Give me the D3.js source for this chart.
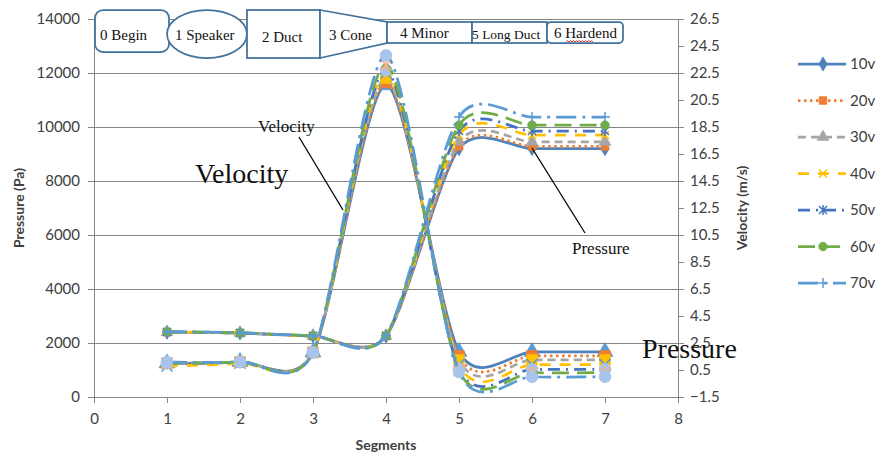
<!DOCTYPE html>
<html>
<head>
<meta charset="utf-8">
<script src="https://cdn.jsdelivr.net/npm/d3@7"></script>
<style>
body { margin: 0; background: #fff; }
text { fill: #404040; }
</style>
</head>
<body>
<svg id="chart" width="879" height="459"></svg>
<script>
var segments = [1, 2, 3, 4, 5, 6, 7];
var seriesNames = ["10v", "20v", "30v", "40v", "50v", "60v", "70v"];

// pressure (Pa), left axis
var pressure10v = [2400, 2370, 2260, 2260, 9200, 9200, 9200];
var pressure20v = [2400, 2370, 2260, 2260, 9280, 9280, 9280];
var pressure30v = [2400, 2370, 2260, 2260, 9450, 9450, 9450];
var pressure40v = [2410, 2370, 2260, 2270, 9700, 9700, 9700];
var pressure50v = [2410, 2370, 2260, 2270, 9850, 9850, 9850];
var pressure60v = [2420, 2380, 2270, 2270, 10070, 10070, 10070];
var pressure70v = [2420, 2380, 2270, 2280, 10370, 10370, 10370];

// velocity (m/s), right axis
var velocity10v = [1.0, 1.1, 1.8, 21.6, 1.85, 1.85, 1.85];
var velocity20v = [1.0, 1.1, 1.8, 21.8, 1.55, 1.55, 1.55];
var velocity30v = [1.0, 1.1, 1.8, 22.1, 1.25, 1.25, 1.25];
var velocity40v = [0.8, 1.0, 1.8, 22.5, 0.9, 0.9, 0.9];
var velocity50v = [1.0, 1.1, 1.8, 22.7, 0.6, 0.55, 0.55];
var velocity60v = [1.0, 1.1, 1.8, 23.1, 0.45, 0.3, 0.3];
var velocity70v = [1.1, 1.1, 1.8, 23.8, 0.35, 0.0, 0.0];

var pressureTicks = [0, 2000, 4000, 6000, 8000, 10000, 12000, 14000];
var velocityTicks = [-1.5, 0.5, 2.5, 4.5, 6.5, 8.5, 10.5, 12.5, 14.5, 16.5, 18.5, 20.5, 22.5, 24.5, 26.5];
var segmentTicks = [0, 1, 2, 3, 4, 5, 6, 7, 8];

var pressureData = [pressure10v, pressure20v, pressure30v, pressure40v, pressure50v, pressure60v, pressure70v];
var velocityData = [velocity10v, velocity20v, velocity30v, velocity40v, velocity50v, velocity60v, velocity70v];

var colors  = ["#4F81BD", "#ED7D31", "#A5A5A5", "#FFC000", "#4472C4", "#70AD47", "#5B9BD5"];
var dashes  = ["", "2.5,3.5", "8,5", "11,9", "12,6,2,6", "17,8", "20,6,3,6"];
var markers = ["diamond", "square", "triangle", "x", "star", "circle", "plus"];
// markers the velocity series show in the picture
var vMarkers = ["triangle", "square", "square", "x", "circle", "star", "circle"];
var vMarkerColors = ["#5B9BD5", "#ED7D31", "#FFC000", "#5B9BD5", "#A9C4EB", "#F4B183", "#A9C4EB"];

var svg = d3.select("#chart");
var x = d3.scaleLinear().domain([0, 8]).range([94, 678]);
var yP = d3.scaleLinear().domain([0, 14000]).range([397, 19]);
var yV = d3.scaleLinear().domain([-1.5, 26.5]).range([397, 19]);

var axisColor = "#868686";
var tickFont = "Lato, 'Open Sans', sans-serif";

// gridlines
svg.append("g")
	.attr("transform", "translate(94,0)")
	.call(d3.axisLeft(yP).tickValues(pressureTicks).tickSize(-584).tickFormat(""))
	.call(function(g){ g.select(".domain").remove(); })
	.selectAll("line").attr("stroke", axisColor);

// left axis
var gl = svg.append("g").attr("transform", "translate(94,0)")
	.call(d3.axisLeft(yP).tickValues(pressureTicks).tickFormat(d3.format("d")).tickSizeOuter(0).tickSize(6).tickPadding(8));
// bottom axis
var gb = svg.append("g").attr("transform", "translate(0,397)")
	.call(d3.axisBottom(x).tickValues(segmentTicks).tickSizeOuter(0).tickSize(6).tickPadding(10));
// right axis
var gr = svg.append("g").attr("transform", "translate(678,0)")
	.call(d3.axisRight(yV).tickValues(velocityTicks).tickFormat(d3.format(".1f")).tickSizeOuter(0).tickSize(6).tickPadding(6));

[gl, gb, gr].forEach(function(g) {
	g.select(".domain").attr("stroke", axisColor);
	g.selectAll(".tick line").attr("stroke", axisColor);
	g.selectAll(".tick text").style("font-family", tickFont).style("font-size", "15px").attr("fill", "#404040");
});

svg.append("text").attr("transform", "translate(24,208) rotate(-90)")
	.attr("text-anchor", "middle").style("font-family", tickFont).style("font-size", "14px").style("font-weight", "bold")
	.text("Pressure (Pa)");
svg.append("text").attr("transform", "translate(747,208) rotate(-90)")
	.attr("text-anchor", "middle").style("font-family", tickFont).style("font-size", "14px").style("font-weight", "bold")
	.text("Velocity (m/s)");
svg.append("text").attr("x", 386).attr("y", 450)
	.attr("text-anchor", "middle").style("font-family", tickFont).style("font-size", "14px").style("font-weight", "bold")
	.text("Segments");

function markerPath(type, size) {
	var s = size / 2;
	if (type == "x") return "M" + (-s) + "," + (-s) + "L" + s + "," + s + "M" + (-s) + "," + s + "L" + s + "," + (-s);
	if (type == "plus") return "M" + (-s - 1) + ",0L" + (s + 1) + ",0M0," + (-s - 1) + "L0," + (s + 1);
	if (type == "star") return "M" + (-s) + "," + (-s) + "L" + s + "," + s + "M" + (-s) + "," + s + "L" + s + "," + (-s) + "M0," + (-s - 1) + "L0," + (s + 1);
	var sym = { diamond: d3.symbolDiamond, square: d3.symbolSquare, triangle: d3.symbolTriangle, circle: d3.symbolCircle }[type];
	return d3.symbol().type(sym).size(size * size * 0.9)();
}
function isStroked(type) { return type == "x" || type == "plus" || type == "star"; }

function drawMarker(g, type, color, size) {
	g.append("path").attr("d", markerPath(type, size))
		.attr("fill", isStroked(type) ? "none" : color)
		.attr("stroke", color)
		.attr("stroke-width", isStroked(type) ? 1.5 : 0.8);
}

function drawSeries(values, yScale, i, mType, mColor, mSize) {
	var pts = segments.map(function(s, k){ return [s, values[k]]; });
	var line = d3.line()
		.x(function(d){ return x(d[0]); })
		.y(function(d){ return yScale(d[1]); })
		.curve(d3.curveCardinal.tension(0.2));
	svg.append("path").datum(pts)
		.attr("d", line)
		.attr("fill", "none")
		.attr("stroke", colors[i])
		.attr("stroke-width", 2.75)
		.attr("stroke-dasharray", dashes[i]);
	pts.forEach(function(d) {
		var g = svg.append("g").attr("transform", "translate(" + x(d[0]) + "," + yScale(d[1]) + ")");
		drawMarker(g, mType, mColor, mSize);
	});
}

pressureData.forEach(function(vals, i){ drawSeries(vals, yP, i, markers[i], colors[i], 8); });
velocityData.forEach(function(vals, i){ drawSeries(vals, yV, i, vMarkers[i], vMarkerColors[i], 11); });

// legend
var legend = svg.append("g");
seriesNames.forEach(function(name, i) {
	var ly = 64 + i * 36.5;
	legend.append("line").attr("x1", 798).attr("x2", 846).attr("y1", ly).attr("y2", ly)
		.attr("stroke", colors[i]).attr("stroke-width", 2.75).attr("stroke-dasharray", dashes[i]);
	drawMarker(legend.append("g").attr("transform", "translate(823," + ly + ")"), markers[i], colors[i], 8);
	legend.append("text").attr("x", 850).attr("y", ly + 5)
		.style("font-family", tickFont).style("font-size", "15px").text(name);
});

// segment diagram along the top
var shapeColor = "#41719C";
var serif = "'Liberation Serif', 'Times New Roman', serif";
var diag = svg.append("g").attr("fill", "#fff").attr("stroke", shapeColor).attr("stroke-width", 1.75);
diag.append("rect").attr("x", 95).attr("y", 10).attr("width", 74).attr("height", 42).attr("rx", 8);
diag.append("ellipse").attr("cx", 207).attr("cy", 34).attr("rx", 40).attr("ry", 24);
diag.append("rect").attr("x", 247).attr("y", 10).attr("width", 73).attr("height", 48);
diag.append("path").attr("d", "M320,10L387,22L387,43L320,58Z");
diag.append("rect").attr("x", 387).attr("y", 22).attr("width", 85).attr("height", 21);
diag.append("rect").attr("x", 472).attr("y", 22).attr("width", 75).attr("height", 21);
diag.append("rect").attr("x", 547).attr("y", 22).attr("width", 76).attr("height", 21).attr("rx", 4);

var labels = [["0 Begin", 100, 40, 15], ["1 Speaker", 175, 40, 15], ["2 Duct", 262, 42, 15],
	["3 Cone", 329, 40, 15], ["4 Minor", 400, 38, 15], ["5 Long Duct", 472, 39, 13.5], ["6 Hardend", 554, 38, 15]];
labels.forEach(function(l) {
	svg.append("text").attr("x", l[1]).attr("y", l[2])
		.style("font-family", serif).style("font-size", l[3] + "px").style("fill", "#111").text(l[0]);
});
// spell-check squiggle under "Hardend"
var sq = "M566,42";
for (var k = 0; k < 18; k++) sq += "l1.5," + (k % 2 ? 1.5 : -1.5);
svg.append("path").attr("d", sq).attr("fill", "none").attr("stroke", "#E02020").attr("stroke-width", 0.9);

// annotations
svg.append("line").attr("x1", 299).attr("y1", 137).attr("x2", 343).attr("y2", 210).attr("stroke", "#000").attr("stroke-width", 1.3);
svg.append("line").attr("x1", 532).attr("y1", 148).attr("x2", 585).attr("y2", 233).attr("stroke", "#000").attr("stroke-width", 1.3);
svg.append("text").attr("x", 258).attr("y", 132).style("font-family", serif).style("font-size", "17px").style("fill", "#111").text("Velocity");
svg.append("text").attr("x", 195).attr("y", 183).style("font-family", serif).style("font-size", "28px").style("fill", "#111").text("Velocity");
svg.append("text").attr("x", 572).attr("y", 254).style("font-family", serif).style("font-size", "17px").style("fill", "#111").text("Pressure");
svg.append("text").attr("x", 642).attr("y", 358).style("font-family", serif).style("font-size", "28px").style("fill", "#111").text("Pressure");
</script>
</body>
</html>
